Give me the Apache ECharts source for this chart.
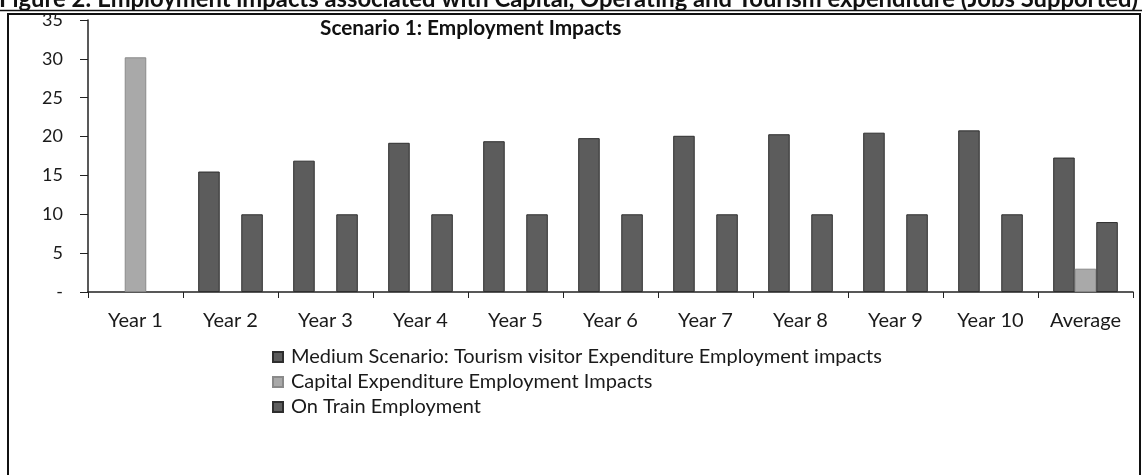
<!DOCTYPE html>
<html>
<head>
<meta charset="utf-8">
<script src="https://cdn.jsdelivr.net/npm/echarts@6/dist/echarts.min.js"></script>
<style>
  html, body { margin: 0; padding: 0; background: #ffffff; }
  #chart { width: 1142px; height: 475px; }
</style>
</head>
<body>
<div id="chart"></div>
<script>
// Jobs supported per year, by source of expenditure
const categories = ['Year 1', 'Year 2', 'Year 3', 'Year 4', 'Year 5', 'Year 6', 'Year 7', 'Year 8', 'Year 9', 'Year 10', 'Average'];
const tourismJobs = [0, 15.5, 16.9, 19.2, 19.4, 19.8, 20.1, 20.3, 20.5, 20.8, 17.3];
const capitalJobs = [30.2, 0, 0, 0, 0, 0, 0, 0, 0, 0, 3.0];
const onTrainJobs = [0, 10, 10, 10, 10, 10, 10, 10, 10, 10, 9.0];
const seriesNames = [
  'Medium Scenario: Tourism visitor Expenditure Employment impacts',
  'Capital Expenditure Employment Impacts',
  'On Train Employment'
];
const chartTitle = 'Scenario 1: Employment Impacts';
const figureCaption = 'Figure 2: Employment impacts associated with Capital, Operating and Tourism expenditure (Jobs Supported)';

const FONT = 'Lato, "Open Sans", sans-serif';
const chart = echarts.init(document.getElementById('chart'), null, { renderer: 'canvas' });

// zero-valued bars get no outline so they vanish into the axis
function toBarData(values) {
  return values.map(function (v) {
    return v === 0 ? { value: 0, itemStyle: { borderWidth: 0 } } : v;
  });
}

function barSeries(name, data, color, border) {
  return {
    name: name,
    type: 'bar',
    data: toBarData(data),
    barGap: '0%',
    barCategoryGap: '32%',
    itemStyle: { color: color, borderColor: border, borderWidth: 1 },
    emphasis: { disabled: true }
  };
}

chart.setOption({
  animation: false,
  backgroundColor: '#ffffff',
  textStyle: { fontFamily: FONT },
  grid: { left: 88, right: 9, top: 20, bottom: 183, containLabel: false },
  xAxis: {
    type: 'category',
    data: categories,
    axisLine: { lineStyle: { color: '#222', width: 1.5 } },
    axisTick: { show: true, length: 6, lineStyle: { color: '#222' } },
    axisLabel: { color: '#1a1a1a', fontSize: 20, margin: 19, fontFamily: FONT }
  },
  yAxis: {
    type: 'value',
    min: 0,
    max: 35,
    interval: 5,
    splitLine: { show: false },
    axisLine: { show: true, lineStyle: { color: '#222', width: 1.5 } },
    axisTick: { show: true, length: 8, lineStyle: { color: '#222' } },
    axisLabel: {
      color: '#1a1a1a', fontSize: 18, margin: 25, fontFamily: FONT,
      formatter: function (v) { return v === 0 ? '-' : String(v); }
    }
  },
  legend: {
    orient: 'vertical',
    left: 267,
    top: 342,
    itemWidth: 10,
    itemHeight: 10,
    itemGap: 5,
    icon: 'rect',
    selectedMode: false,
    textStyle: { color: '#1a1a1a', fontSize: 20, fontFamily: FONT, lineHeight: 20, padding: [0, 0, 0, 3] },
    data: seriesNames
  },
  series: [
    barSeries(seriesNames[0], tourismJobs, '#5c5c5c', '#2e2e2e'),
    barSeries(seriesNames[1], capitalJobs, '#a9a9a9', '#8a8a8a'),
    barSeries(seriesNames[2], onTrainJobs, '#5e5e5e', '#2e2e2e')
  ],
  graphic: [
    // outer frame of the figure
    {
      type: 'polyline',
      silent: true,
      shape: { points: [[8, 476], [8, 14], [1140, 14], [1140, 476]] },
      style: { stroke: '#111', lineWidth: 2, fill: null }
    },
    // figure caption running off the top edge
    {
      type: 'text',
      silent: true,
      style: {
        x: -1, y: -13,
        text: figureCaption,
        font: 'bold 23.8px ' + FONT,
        fill: '#111',
        verticalAlign: 'top'
      }
    },
    {
      type: 'line',
      silent: true,
      shape: { x1: 0, y1: 10.5, x2: 1142, y2: 10.5 },
      style: { stroke: '#111', lineWidth: 1.5 }
    },
    // chart title
    {
      type: 'text',
      silent: true,
      style: {
        x: 320, y: 28.5,
        text: chartTitle,
        font: 'bold 20.8px ' + FONT,
        fill: '#111',
        verticalAlign: 'middle'
      }
    }
  ]
});
</script>
</body>
</html>
